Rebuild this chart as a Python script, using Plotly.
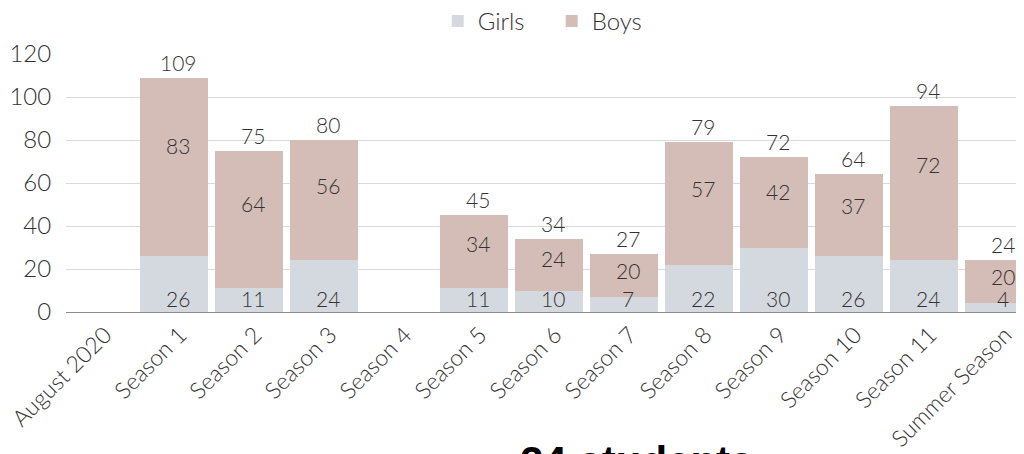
import plotly.graph_objects as go

categories = ["August 2020", "Season 1", "Season 2", "Season 3", "Season 4", "Season 5",
              "Season 6", "Season 7", "Season 8", "Season 9", "Season 10", "Season 11",
              "Summer Season"]
girls = [0, 26, 11, 24, 0, 11, 10, 7, 22, 30, 26, 24, 4]
boys = [0, 83, 64, 56, 0, 34, 24, 20, 57, 42, 38, 72, 20]
girls_labels = [None, "26", "11", "24", None, "11", "10", "7", "22", "30", "26", "24", "4"]
boys_labels = [None, "83", "64", "56", None, "34", "24", "20", "57", "42", "37", "72", "20"]
total_labels = [None, "109", "75", "80", None, "45", "34", "27", "79", "72", "64", "94", "24"]
footer_text = "24 students"

GIRLS_COLOR = "#d3d9df"
BOYS_COLOR = "#d4bdb7"
TEXT_COLOR = "#333333"
FONT = "Lato"
LABEL_SIZE = 21

fig = go.Figure()
fig.add_trace(go.Bar(name="Girls", x=categories, y=girls, marker=dict(color=GIRLS_COLOR, line=dict(width=0))))
fig.add_trace(go.Bar(name="Boys", x=categories, y=boys, marker=dict(color=BOYS_COLOR, line=dict(width=0))))

lab_font = dict(family=FONT, size=LABEL_SIZE, color=TEXT_COLOR, weight=300)
annotations = []
for c, g, b, gl, bl, tl in zip(categories, girls, boys, girls_labels, boys_labels, total_labels):
    if gl is not None:
        annotations.append(dict(x=c, y=0, text=gl, showarrow=False, yanchor="bottom", yshift=-1,
                                xshift=4, font=lab_font))
    if bl is not None:
        annotations.append(dict(x=c, y=g + b * 0.62, text=bl, showarrow=False, yanchor="middle",
                                xshift=4, font=lab_font))
    if tl is not None:
        annotations.append(dict(x=c, y=g + b, text=tl, showarrow=False, yanchor="bottom", yshift=1,
                                xshift=4, font=lab_font))

annotations.append(dict(xref="paper", yref="paper", x=0.596, y=-0.481, xanchor="center", yanchor="top",
                        text="<b>" + footer_text + "</b>", showarrow=False,
                        font=dict(family="Liberation Sans, Arial", size=42, color="#000000")))

# page body has an 8px margin, so the figure is sized to end at the window edge
fig.update_layout(
    barmode="stack",
    bargap=0.093,
    width=1016,
    height=446,
    margin=dict(l=58, r=0, t=46, b=142, autoexpand=False),
    plot_bgcolor="white",
    paper_bgcolor="white",
    font=dict(family=FONT, size=21, color=TEXT_COLOR, weight=300),
    legend=dict(orientation="h", x=0.507, xref="paper", xanchor="center",
                y=0.97, yref="container", yanchor="middle", traceorder="normal",
                entrywidth=69, entrywidthmode="pixels",
                font=dict(family=FONT, size=24, color=TEXT_COLOR, weight=300)),
    annotations=annotations,
)
fig.update_xaxes(range=[-0.44, 12.333], tickangle=-45, showgrid=False, showline=False,
                 ticklabelshift=6, ticklabelstandoff=4,
                 tickfont=dict(family=FONT, size=23, color=TEXT_COLOR, weight=300))
fig.update_yaxes(range=[0, 120], dtick=20, showgrid=True, gridcolor="#d9d9d9", gridwidth=1,
                 zeroline=True, zerolinecolor="#8c8c8c", zerolinewidth=1,
                 ticks="outside", ticklen=9, tickcolor="rgba(0,0,0,0)",
                 tickfont=dict(family=FONT, size=24, color=TEXT_COLOR, weight=300))

fig.write_html("out.html")
